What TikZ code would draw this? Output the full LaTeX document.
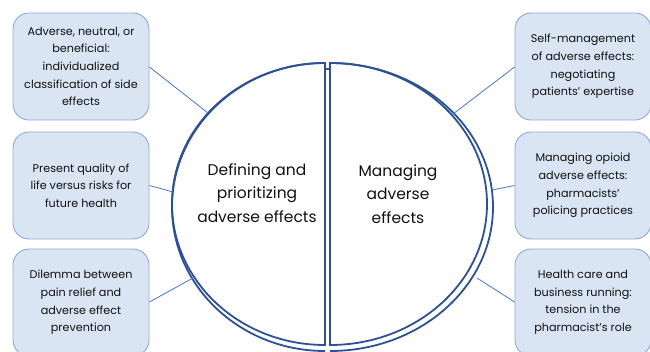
\documentclass[tikz,border=0pt]{standalone}
\usepackage{fontspec}
\setmainfont{Poppins}
\definecolor{boxfill}{HTML}{DAE5F4}
\definecolor{boxline}{HTML}{8EAADB}
\definecolor{linkline}{HTML}{4A76C6}
\definecolor{ringline}{HTML}{2D5194}
\definecolor{txt}{HTML}{111111}
\begin{document}
\begin{tikzpicture}[x=1pt,y=-1pt,
  theme/.style={draw=boxline, fill=boxfill, line width=0.9pt, rounded corners=16pt,
    minimum width=136pt, minimum height=107pt, align=center,
    font=\fontsize{11.2}{17.6}\selectfont, text=txt, inner sep=0pt},
  link/.style={draw=linkline, line width=0.8pt},
  half/.style={draw=ringline, line width=1.8pt},
  core/.style={font=\fontsize{15.5}{23.5}\selectfont, text=txt, align=center, inner sep=0pt}]
\useasboundingbox (0,0) rectangle (650,352);
\clip (0,0) rectangle (650,352);

% theme boxes on the left
\node[theme] (l1) at (81,66.5)  {Adverse, neutral, or\\beneficial:\\individualized\\classification of side\\effects};
\node[theme] (l2) at (81,185.5) {Present quality of\\life versus risks for\\future health};
\node[theme] (l3) at (81,302.5) {Dilemma between\\pain relief and\\adverse effect\\prevention};

% theme boxes on the right
\node[theme] (r1) at (583,66.5)  {Self-management\\of adverse effects:\\negotiating\\patients’ expertise};
\node[theme] (r2) at (583,185.5) {Managing opioid\\adverse effects:\\pharmacists’\\policing practices};
\node[theme] (r3) at (583,302.5) {Health care and\\business running:\\tension in the\\pharmacist’s role};

% the two halves of the central circle, each with a faint second outline
\draw[half] (325,63) arc[start angle=-90, end angle=-270, x radius=153, y radius=141] -- cycle;
\draw[half] (325,63) arc[start angle=-90, end angle=-270, x radius=153, y radius=144];
\draw[half] (330,63) arc[start angle=-90, end angle=90, x radius=157, y radius=141] -- cycle;
\draw[half] (330,63) arc[start angle=-90, end angle=90, x radius=163, y radius=144];
\draw[half, line width=1.2pt] (325,69) -- (330,69);

% anchor points on the circle outline
\coordinate (cl1) at (208,113);
\coordinate (cl2) at (173,192);
\coordinate (cl3) at (193,278);
\coordinate (cr1) at (453,114);
\coordinate (cr2) at (492,190);
\coordinate (cr3) at (477,278);

\node[core] (def) at (257,193) {Defining and\\prioritizing\\adverse effects};
\node[core] (man) at (398,194) {Managing\\adverse\\effects};

% connectors
\draw[link] (l1.east |- 0,67)  -- (cl1);
\draw[link] (l2.east)          -- (cl2);
\draw[link] (l3.east |- 0,302) -- (cl3);
\draw[link] (r1.west |- 0,67)  -- (cr1);
\draw[link] (r2.west)          -- (cr2);
\draw[link] (r3.west |- 0,302) -- (cr3);
\end{tikzpicture}
\end{document}
